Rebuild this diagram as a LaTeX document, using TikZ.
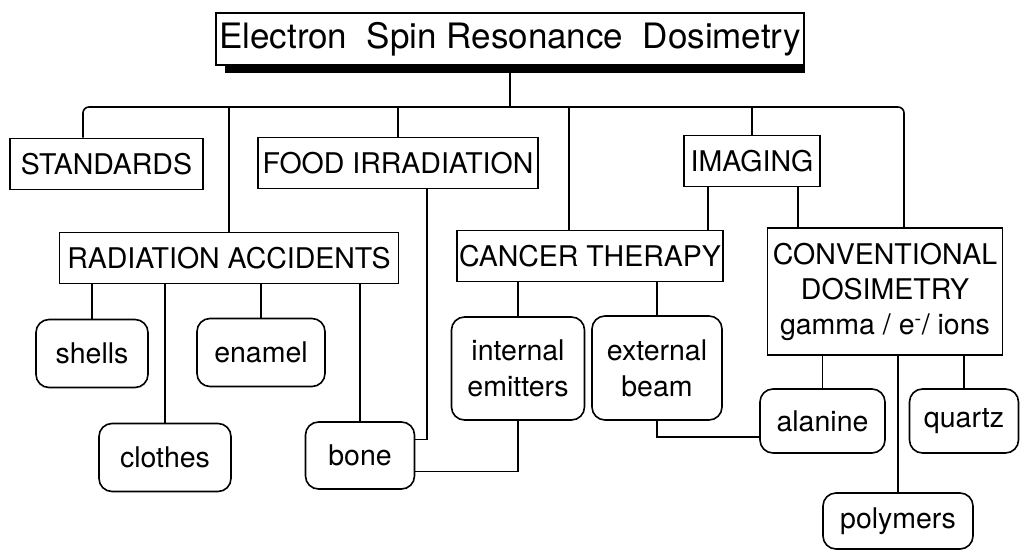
\documentclass[tikz,border=0pt]{standalone}
\usepackage{fontspec}
\setmainfont{TeX Gyre Heros}
\usetikzlibrary{positioning}
\tikzset{
  topbox/.style={draw, line width=1.6pt, minimum width=588pt, minimum height=52pt, inner sep=0pt, font=\fontsize{35}{40}\selectfont},
  catbox/.style={draw, line width=1.6pt, minimum height=51pt, inner sep=0pt, align=center, font=\fontsize{28.5}{35}\selectfont},
  leafbox/.style={draw, line width=1.6pt, rounded corners=13pt, minimum height=68pt, inner sep=0pt, align=center, font=\fontsize{28.5}{36}\selectfont},
  link/.style={line width=1.6pt}
}

\begin{document}
\begin{tikzpicture}[x=1pt, y=-1pt]
  \useasboundingbox (0,0) rectangle (1029,553);
  % title with its shadow bar
  \node[topbox] (esr) at (510,39) {Electron\ \ Spin Resonance\ \ Dosimetry};
  \fill ([xshift=10pt]esr.south west) rectangle ([yshift=-7pt]esr.south east);

  % fields of use
  \node[catbox, minimum width=193pt] (standards) at (106.5,164) {STANDARDS};
  \node[catbox, minimum width=280pt] (food) at (398,163) {FOOD IRRADIATION};
  \node[catbox, minimum width=136pt] (imaging) at (752,161) {IMAGING};
  \node[catbox, minimum width=339pt] (accidents) at (229,258) {RADIATION ACCIDENTS};
  \node[catbox, minimum width=266pt] (cancer) at (590,256) {CANCER THERAPY};
  \node[catbox, minimum width=235pt, minimum height=127pt] (conv) at (885,291.5) {CONVENTIONAL\\DOSIMETRY\\gamma / e\textsuperscript{-}/ ions};

  % materials
  \node[leafbox, minimum width=112pt] (shells) at (92,353.5) {shells};
  \node[leafbox, minimum width=128pt] (enamel) at (261,352.5) {enamel};
  \node[leafbox, minimum width=132pt] (clothes) at (165,457.5) {clothes};
  \node[leafbox, minimum width=109pt, minimum height=67pt] (bone) at (360,455.5) {bone};
  \node[leafbox, minimum width=133pt, minimum height=103pt] (internal) at (518,368.5) {internal\\emitters};
  \node[leafbox, minimum width=130pt, minimum height=104pt] (external) at (657,368) {external\\beam};
  \node[leafbox, minimum width=125pt, minimum height=64pt] (alanine) at (822.5,421) {alanine};
  \node[leafbox, minimum width=109pt, minimum height=64pt] (quartz) at (964,421) {quartz};
  \node[leafbox, minimum width=150pt, minimum height=56pt] (polymers) at (898,521) {polymers};

  % bus under the title
  \coordinate (busL) at (83,107);
  \coordinate (busR) at (904,107);
  \draw[link] (esr.south) -- (esr.south |- busL);
  \draw[link, rounded corners=6pt] (standards.north -| busL) |- (busR) [sharp corners] -- (busR |- conv.north);
  \foreach \n in {accidents,food,imaging}
    \draw[link] (\n.north) -- (\n.north |- busL);
  \coordinate (cancerIn) at ([xshift=-21pt]cancer.north);
  \draw[link] (cancerIn) -- (cancerIn |- busL);

  % imaging links
  \coordinate (imgL) at ([xshift=-44pt]imaging.south);
  \coordinate (imgR) at ([xshift=46pt]imaging.south);
  \draw[link] (imgL) -- (imgL |- cancer.north);
  \draw[link] (imgR) -- (imgR |- conv.north);

  % children
  \foreach \n in {shells,clothes,enamel,bone}
    \draw[link] (\n.north) -- (\n.north |- accidents.south);
  \foreach \n in {internal,external}
    \draw[link] (\n.north) -- (\n.north |- cancer.south);
  \foreach \n in {alanine,polymers,quartz}
    \draw[link] (\n.north) -- (\n.north |- conv.south);

  % cross links
  \coordinate (foodOut) at ([xshift=29pt]food.south);
  \draw[link] (foodOut) |- ([yshift=16pt]bone.east);
  \draw[link] (internal.south) |- ([yshift=-16pt]bone.east);
  \draw[link] (external.south) |- ([yshift=-16pt]alanine.west);
\end{tikzpicture}
\end{document}
